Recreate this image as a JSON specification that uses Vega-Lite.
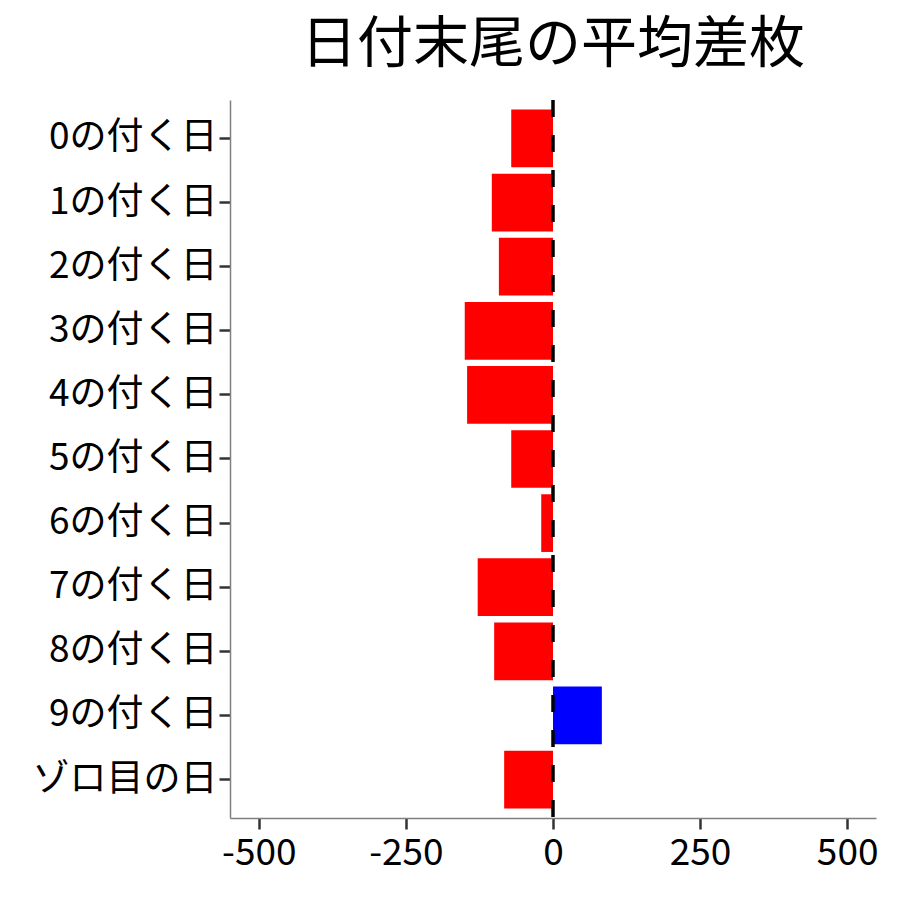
{
  "$schema": "https://vega.github.io/schema/vega-lite/v6.json",
  "width": 646,
  "height": 718,
  "autosize": "none",
  "padding": {"left": 230, "top": 100, "right": 24, "bottom": 82},
  "background": "white",
  "title": {
    "text": "日付末尾の平均差枚",
    "font": "Noto Sans CJK JP",
    "fontSize": 56,
    "fontWeight": "normal",
    "color": "black",
    "anchor": "middle",
    "offset": 24
  },
  "data": {
    "values": [
      {"day": "0の付く日", "value": -71},
      {"day": "1の付く日", "value": -104},
      {"day": "2の付く日", "value": -92},
      {"day": "3の付く日", "value": -150},
      {"day": "4の付く日", "value": -146},
      {"day": "5の付く日", "value": -71},
      {"day": "6の付く日", "value": -20},
      {"day": "7の付く日", "value": -128},
      {"day": "8の付く日", "value": -100},
      {"day": "9の付く日", "value": 83},
      {"day": "ゾロ目の日", "value": -83}
    ]
  },
  "layer": [
    {
      "mark": {"type": "bar"},
      "encoding": {
        "y": {
          "field": "day",
          "type": "nominal",
          "sort": null,
          "title": null,
          "scale": {"paddingInner": 0.1, "paddingOuter": 0.15},
          "axis": {
            "labelFont": "Noto Sans CJK JP",
            "labelFontSize": 37,
            "labelColor": "black",
            "labelLimit": 0,
            "labelPadding": 2,
            "tickSize": 11,
            "tickWidth": 2.5,
            "tickColor": "#333333",
            "domainColor": "#7f7f7f",
            "domainWidth": 1.5,
            "grid": false
          }
        },
        "x": {
          "field": "value",
          "type": "quantitative",
          "title": null,
          "scale": {"domain": [-549, 549], "nice": false, "zero": false},
          "axis": {
            "values": [-500, -250, 0, 250, 500],
            "labelExpr": "toString(datum.value)",
            "labelFont": "Noto Sans CJK JP",
            "labelFontSize": 37,
            "labelColor": "black",
            "labelPadding": 6,
            "tickSize": 11,
            "tickWidth": 2.5,
            "tickColor": "#333333",
            "domainColor": "#7f7f7f",
            "domainWidth": 1.5,
            "grid": false
          }
        },
        "color": {
          "condition": {"test": "datum.value > 0", "value": "blue"},
          "value": "red"
        }
      }
    },
    {
      "data": {"values": [{"zero": 0}]},
      "mark": {"type": "rule", "color": "black", "strokeWidth": 3.5, "strokeDash": [17, 18]},
      "encoding": {
        "x": {"field": "zero", "type": "quantitative"}
      }
    }
  ],
  "config": {
    "view": {"stroke": null}
  }
}
